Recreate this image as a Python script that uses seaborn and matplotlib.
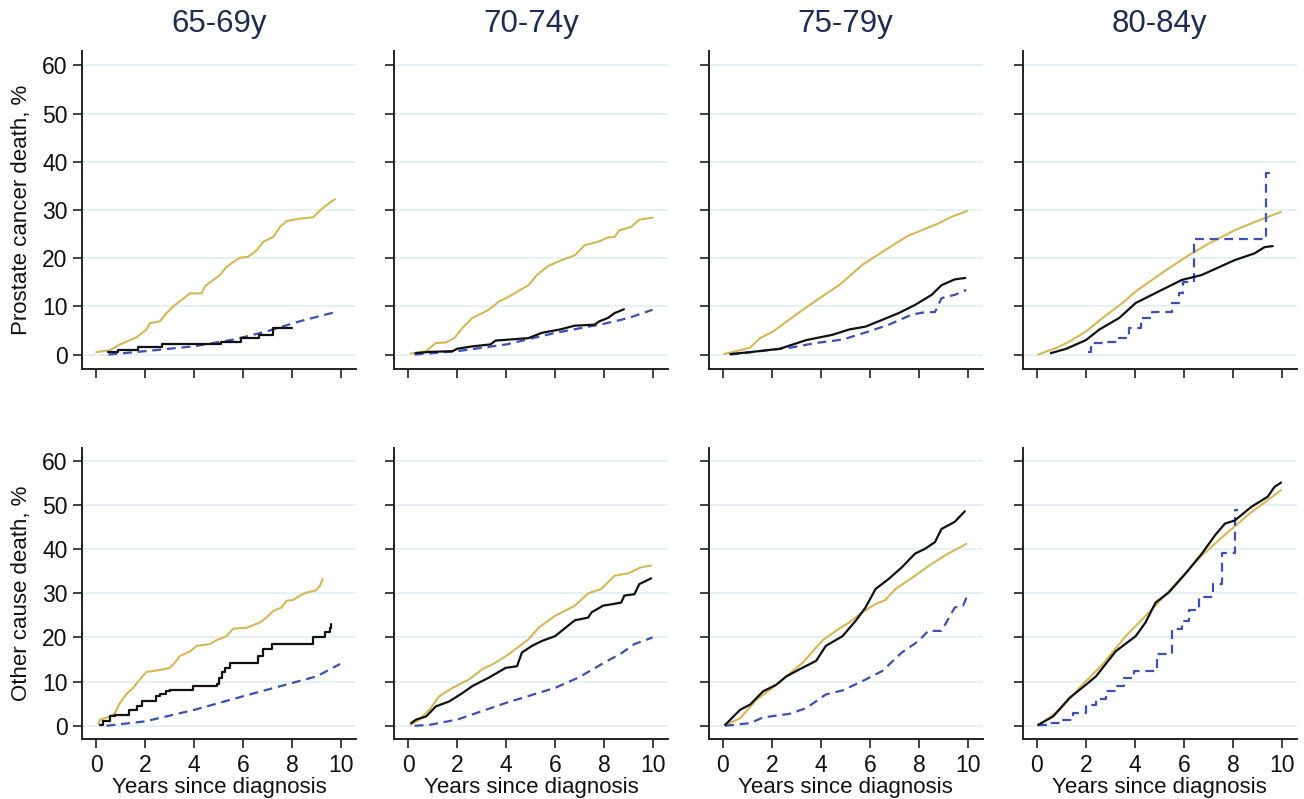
import matplotlib
matplotlib.use("Agg")
import matplotlib.pyplot as plt
import numpy as np
import pandas as pd
import seaborn as sns

# ---------------- data ----------------
age_groups = ["65-69y", "70-74y", "75-79y", "80-84y"]
row_labels = ["Prostate cancer death, %", "Other cause death, %"]
x_ticks = [0, 2, 4, 6, 8, 10]
y_ticks = [0, 10, 20, 30, 40, 50, 60]

# Prostate cancer death
pc65_gold_t = [0.0, 0.56, 0.97, 1.24, 1.65, 2.05, 2.19, 2.6, 2.87, 3.14, 3.48, 3.82, 4.3, 4.44, 4.78, 5.05, 5.32, 5.59, 5.86, 6.2, 6.54, 6.82, 7.22, 7.5, 7.77, 8.31, 8.86, 9.13, 9.54, 9.74]
pc65_gold_v = [0.5, 0.9, 2.1, 2.7, 3.6, 5.2, 6.5, 6.9, 8.6, 10.0, 11.3, 12.7, 12.7, 14.2, 15.5, 16.5, 18.2, 19.2, 20.1, 20.3, 21.6, 23.4, 24.4, 26.5, 27.7, 28.2, 28.5, 29.9, 31.6, 32.2]
pc65_black_t = [0.49, 0.9, 1.7, 2.7, 5.1, 5.9, 6.65, 7.22, 7.97]
pc65_black_v = [0.5, 0.9, 1.6, 2.2, 2.7, 3.4, 4.1, 5.5, 5.5]
pc65_blue_t = [0.5, 2.0, 3.96, 5.6, 6.95, 8.3, 9.67]
pc65_blue_v = [0.0, 0.7, 1.7, 3.1, 4.8, 6.9, 8.7]

pc70_gold_t = [0.1, 0.73, 1.13, 1.54, 1.88, 2.21, 2.62, 3.02, 3.29, 3.7, 4.1, 4.57, 4.91, 5.25, 5.72, 6.26, 6.8, 7.2, 7.75, 8.15, 8.42, 8.62, 9.1, 9.43, 9.97]
pc70_gold_v = [0.2, 0.7, 2.4, 2.5, 3.4, 5.5, 7.6, 8.6, 9.3, 11.0, 12.0, 13.4, 14.4, 16.5, 18.4, 19.6, 20.6, 22.7, 23.4, 24.3, 24.4, 25.8, 26.5, 28.0, 28.4]
pc70_black_t = [0.3, 0.86, 1.81, 2.0, 2.62, 3.36, 3.56, 4.9, 5.45, 6.19, 6.8, 7.6, 7.8, 8.15, 8.42, 8.8]
pc70_black_v = [0.3, 0.55, 0.7, 1.2, 1.7, 2.1, 2.9, 3.4, 4.5, 5.2, 6.0, 6.2, 6.9, 7.6, 8.6, 9.4]
pc70_blue_t = [0.26, 2.0, 4.0, 6.0, 8.0, 9.0, 9.97]
pc70_blue_v = [0.0, 0.7, 2.1, 4.5, 6.4, 7.6, 9.3]

pc75_gold_t = [0.05, 1.1, 1.51, 2.05, 2.99, 3.94, 4.74, 5.69, 6.5, 7.57, 8.25, 8.79, 9.33, 9.97]
pc75_gold_v = [0.1, 1.4, 3.4, 4.8, 8.3, 11.7, 14.4, 18.6, 21.3, 24.7, 26.1, 27.2, 28.6, 29.8]
pc75_black_t = [0.3, 1.1, 2.32, 3.4, 4.47, 5.15, 5.82, 6.5, 7.17, 7.84, 8.52, 8.92, 9.46, 9.89]
pc75_black_v = [0.1, 0.5, 1.2, 3.0, 4.1, 5.2, 5.8, 7.2, 8.6, 10.3, 12.4, 14.4, 15.6, 15.9]
pc75_blue_t = [0.3, 1.51, 2.72, 3.8, 4.88, 5.96, 6.77, 7.71, 8.25, 8.65, 8.92, 9.46, 9.93]
pc75_blue_v = [0.0, 0.7, 1.4, 2.4, 3.1, 4.8, 6.2, 8.3, 8.8, 8.8, 11.7, 12.4, 13.4]

pc80_gold_t = [0.05, 0.8, 1.33, 2.0, 2.68, 3.49, 4.03, 4.7, 5.38, 6.19, 7.0, 8.07, 8.88, 9.96]
pc80_gold_v = [0.0, 1.4, 2.7, 4.8, 7.6, 10.7, 13.1, 15.5, 17.9, 20.6, 23.0, 25.8, 27.5, 29.6]
pc80_black_t = [0.57, 1.2, 2.0, 2.55, 3.36, 4.03, 4.97, 5.92, 6.72, 8.07, 8.88, 9.29, 9.62]
pc80_black_v = [0.3, 1.2, 3.0, 5.2, 7.6, 10.7, 13.1, 15.5, 16.5, 19.6, 21.0, 22.3, 22.5]
pc80_blue_t = [2.08, 2.21, 2.82, 3.36, 3.77, 4.23, 4.7, 5.51, 5.78, 5.98, 6.42, 9.33, 9.58]
pc80_blue_v = [0.5, 2.4, 2.7, 3.4, 5.5, 7.6, 8.9, 10.7, 12.7, 15.1, 23.9, 37.6, 37.6]

# Other cause death
oc65_gold_t = [0.08, 0.15, 0.56, 0.76, 0.97, 1.24, 1.51, 1.78, 2.05, 2.46, 3.0, 3.21, 3.41, 3.82, 4.1, 4.64, 4.91, 5.32, 5.59, 6.14, 6.68, 6.95, 7.22, 7.56, 7.77, 8.04, 8.31, 8.59, 8.93, 9.13, 9.24]
oc65_gold_v = [0.4, 1.4, 2.1, 2.9, 5.2, 7.2, 8.6, 10.5, 12.2, 12.5, 13.1, 14.3, 15.8, 16.8, 18.1, 18.5, 19.4, 20.3, 22.0, 22.2, 23.4, 24.5, 26.0, 26.8, 28.3, 28.5, 29.5, 30.2, 30.6, 31.7, 33.3]
oc65_black_t = [0.15, 0.29, 0.56, 0.75, 1.35, 1.65, 1.85, 2.45, 2.6, 2.85, 3.0, 3.96, 4.91, 5.0, 5.12, 5.25, 5.46, 6.6, 6.82, 7.16, 8.86, 9.33, 9.54, 9.6]
oc65_black_v = [0.2, 1.1, 2.1, 2.5, 3.6, 4.4, 5.7, 6.7, 7.2, 7.8, 8.2, 8.9, 9.5, 10.9, 12.2, 13.1, 14.3, 15.8, 17.3, 18.5, 20.2, 21.3, 22.2, 23.1]
oc65_blue_t = [0.42, 2.0, 4.0, 6.0, 8.0, 9.0, 9.95]
oc65_blue_v = [0.0, 1.0, 3.6, 6.7, 9.7, 11.2, 14.0]

oc70_gold_t = [0.1, 0.46, 0.86, 1.27, 1.81, 2.48, 3.02, 3.56, 4.1, 4.91, 5.32, 5.99, 6.8, 7.34, 7.88, 8.42, 8.96, 9.5, 9.91]
oc70_gold_v = [0.2, 1.4, 3.6, 6.7, 8.6, 10.5, 12.8, 14.3, 16.2, 19.6, 22.2, 24.9, 27.2, 30.0, 31.0, 34.0, 34.5, 35.9, 36.3]
oc70_black_t = [0.12, 0.32, 0.73, 1.13, 1.67, 2.21, 2.62, 3.29, 3.97, 4.44, 4.64, 5.05, 5.45, 5.99, 6.8, 7.34, 7.48, 7.95, 8.69, 8.82, 9.23, 9.43, 9.91]
oc70_black_v = [0.6, 1.4, 2.1, 4.4, 5.5, 7.4, 9.0, 10.9, 13.1, 13.5, 16.6, 18.1, 19.2, 20.3, 23.9, 24.5, 25.7, 27.2, 27.9, 29.5, 29.8, 32.1, 33.4]
oc70_blue_t = [0.26, 0.86, 2.0, 4.0, 6.0, 6.94, 8.0, 8.69, 9.23, 9.97]
oc70_blue_v = [0.0, 0.2, 1.4, 5.2, 8.6, 10.9, 14.3, 16.4, 18.5, 20.0]

oc75_gold_t = [0.09, 0.7, 1.37, 2.05, 2.59, 3.26, 4.07, 4.61, 5.15, 5.69, 6.23, 6.63, 7.04, 7.84, 8.52, 9.19, 9.93]
oc75_gold_v = [0.2, 1.7, 5.9, 8.7, 11.2, 14.3, 19.4, 21.5, 23.4, 25.7, 27.6, 28.5, 31.0, 34.0, 36.7, 39.0, 41.2]
oc75_black_t = [0.09, 0.7, 1.11, 1.64, 2.18, 2.59, 3.13, 3.8, 4.2, 4.88, 5.42, 5.82, 6.23, 6.77, 7.3, 7.84, 8.25, 8.65, 8.92, 9.46, 9.87]
oc75_black_v = [0.2, 3.6, 4.8, 7.8, 9.3, 11.2, 12.8, 14.7, 18.1, 20.3, 23.8, 26.8, 31.0, 33.3, 35.9, 39.0, 40.1, 41.6, 44.6, 46.2, 48.6]
oc75_blue_t = [0.09, 1.11, 1.64, 2.72, 3.4, 4.2, 4.88, 5.69, 6.5, 7.3, 7.98, 8.38, 8.92, 9.46, 9.8, 9.97]
oc75_blue_v = [0.0, 0.6, 1.9, 2.7, 4.0, 7.1, 8.0, 10.1, 12.4, 16.6, 19.2, 21.5, 21.5, 26.8, 27.2, 29.5]

oc80_gold_t = [0.05, 0.93, 1.74, 2.68, 3.62, 4.7, 5.65, 6.73, 7.8, 8.75, 9.42, 9.96]
oc80_gold_v = [0.0, 3.6, 8.6, 13.9, 20.3, 26.4, 32.1, 38.6, 43.9, 48.4, 51.1, 53.4]
oc80_black_t = [0.05, 0.66, 1.33, 2.0, 2.41, 2.68, 3.22, 4.03, 4.43, 4.84, 5.38, 6.05, 6.73, 7.26, 7.67, 8.07, 8.75, 9.42, 9.69, 9.96]
oc80_black_v = [0.2, 2.1, 6.3, 9.3, 11.2, 13.1, 16.9, 20.3, 23.4, 27.9, 30.2, 34.4, 39.0, 43.1, 45.8, 46.5, 49.6, 51.9, 54.1, 55.1]
oc80_blue_t = [0.05, 0.53, 0.93, 1.47, 2.0, 2.41, 2.82, 3.22, 3.56, 3.96, 4.9, 5.5, 5.9, 6.2, 6.6, 7.2, 7.55, 8.07, 8.2]
oc80_blue_v = [0.2, 0.6, 1.4, 2.9, 4.8, 6.0, 7.8, 9.0, 10.9, 12.5, 16.2, 21.9, 23.8, 26.2, 29.1, 32.1, 39.1, 48.8, 48.8]

# which series show coarse steps
panels = [
    [  # prostate cancer death
        [(pc65_gold_t, pc65_gold_v, "gold", False), (pc65_blue_t, pc65_blue_v, "blue", False), (pc65_black_t, pc65_black_v, "black", True)],
        [(pc70_gold_t, pc70_gold_v, "gold", False), (pc70_blue_t, pc70_blue_v, "blue", False), (pc70_black_t, pc70_black_v, "black", False)],
        [(pc75_gold_t, pc75_gold_v, "gold", False), (pc75_blue_t, pc75_blue_v, "blue", False), (pc75_black_t, pc75_black_v, "black", False)],
        [(pc80_gold_t, pc80_gold_v, "gold", False), (pc80_blue_t, pc80_blue_v, "blue", True), (pc80_black_t, pc80_black_v, "black", False)],
    ],
    [  # other cause death
        [(oc65_gold_t, oc65_gold_v, "gold", False), (oc65_blue_t, oc65_blue_v, "blue", False), (oc65_black_t, oc65_black_v, "black", True)],
        [(oc70_gold_t, oc70_gold_v, "gold", False), (oc70_blue_t, oc70_blue_v, "blue", False), (oc70_black_t, oc70_black_v, "black", False)],
        [(oc75_gold_t, oc75_gold_v, "gold", False), (oc75_blue_t, oc75_blue_v, "blue", False), (oc75_black_t, oc75_black_v, "black", False)],
        [(oc80_gold_t, oc80_gold_v, "gold", False), (oc80_blue_t, oc80_blue_v, "blue", True), (oc80_black_t, oc80_black_v, "black", False)],
    ],
]

colors = {"gold": "#D6B758", "blue": "#3B50B2", "black": "#111111"}

# ---------------- style ----------------
sns.set_theme(style="white")
plt.rcParams["font.family"] = ["Liberation Sans", "DejaVu Sans"]

W, H = 1304, 799
fig = plt.figure(figsize=(W / 100, H / 100), dpi=100)

col_left = [82, 394, 708.7, 1022.7]
ax_w = 274
rows = [(51, 369), (447.7, 739)]

for r, (top, bot) in enumerate(rows):
    for c in range(4):
        ax = fig.add_axes([col_left[c] / W, 1 - bot / H, ax_w / W, (bot - top) / H])
        ax.set_facecolor("white")
        for y in y_ticks:
            ax.axhline(y, color="#E6F1F3", lw=1.5, zorder=0)
        for t, v, key, stepped in panels[r][c]:
            df = pd.DataFrame({"t": t, "v": v})
            kw = dict(color=colors[key], lw=1.6 if key != "gold" else 1.5)
            if key == "blue":
                kw["dashes"] = False
                kw["linestyle"] = (0, (4.0, 2.6))
            sns.lineplot(data=df, x="t", y="v", ax=ax, estimator=None, sort=False,
                         drawstyle="steps-post" if stepped else "default", **kw)
        ax.set_xlim(-0.58, 10.6)
        ax.set_ylim(-3, 63)
        ax.set_xticks(x_ticks)
        ax.set_yticks(y_ticks)
        for s in ["top", "right"]:
            ax.spines[s].set_visible(False)
        for s in ["left", "bottom"]:
            ax.spines[s].set_color("#222222")
            ax.spines[s].set_linewidth(1.4)
        ax.tick_params(axis="both", direction="out", length=6.5, width=1.2,
                       color="#222222", labelsize=16.5, pad=4, labelcolor="#111111",
                       left=True, bottom=True)
        ax.grid(False)
        if c == 0:
            ax.set_ylabel(row_labels[r], fontsize=16, color="#111111", labelpad=7)
        else:
            ax.set_ylabel("")
            ax.set_yticklabels([])
        if r == 1:
            ax.set_xlabel("Years since diagnosis", fontsize=16, color="#111111", labelpad=0)
        else:
            ax.set_xlabel("")
            ax.set_xticklabels([])
        if r == 0:
            ax.set_title(age_groups[c], fontsize=22.5, color="#1E2B52", pad=14)

fig.savefig("out.png", dpi=100)
